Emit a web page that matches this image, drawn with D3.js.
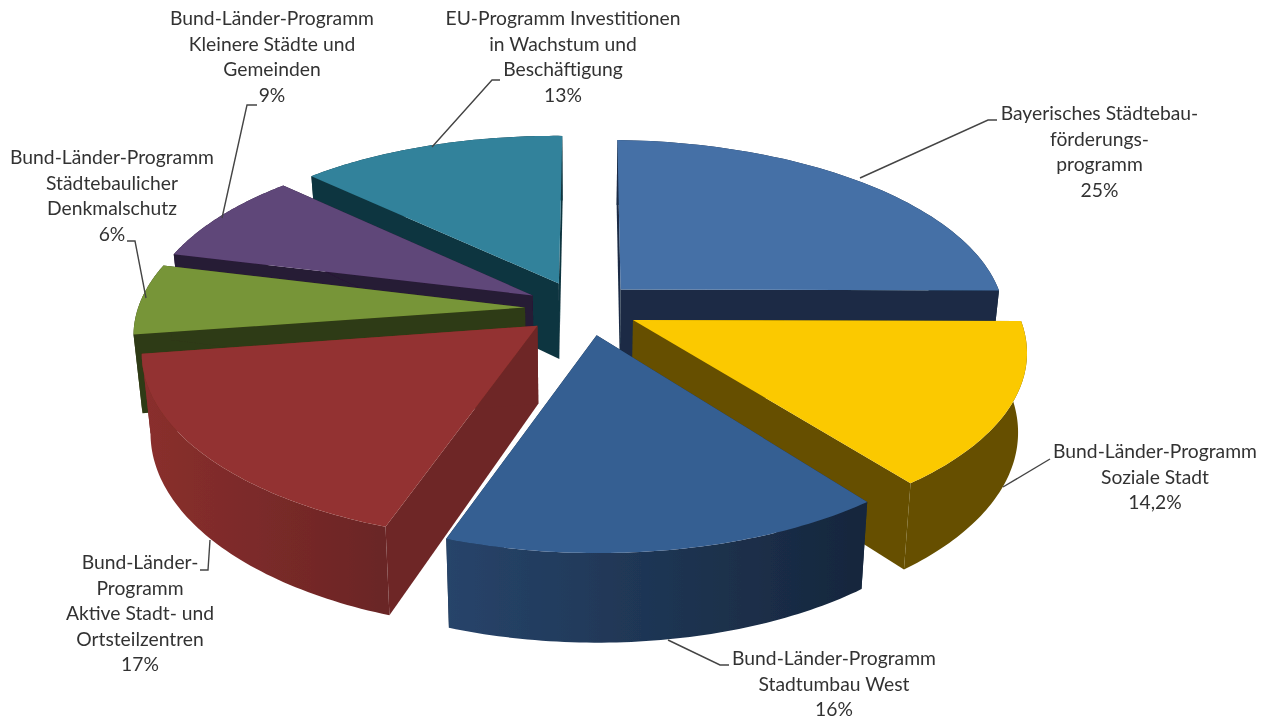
<!DOCTYPE html>
<html>
<head>
<meta charset="utf-8">
<script src="https://cdnjs.cloudflare.com/ajax/libs/d3/7.8.5/d3.min.js"></script>
<style>
  html, body { margin: 0; padding: 0; background: #fff; }
  svg { display: block; }
  text { font-family: Lato, "Noto Sans", sans-serif; font-size: 19.3px; fill: #333; text-anchor: middle; }
</style>
</head>
<body>
<div id="chart"></div>
<script>
// values (they add up to 100.2 in the original too)
const categories = [
  "Bayerisches Städtebauförderungsprogramm",
  "Bund-Länder-Programm Soziale Stadt",
  "Bund-Länder-Programm Stadtumbau West",
  "Bund-Länder-Programm Aktive Stadt- und Ortsteilzentren",
  "Bund-Länder-Programm Städtebaulicher Denkmalschutz",
  "Bund-Länder-Programm Kleinere Städte und Gemeinden",
  "EU-Programm Investitionen in Wachstum und Beschäftigung"
];
const values = [25, 14.2, 16, 17, 6, 9, 13];
const labelLines = [
  ["Bayerisches Städtebau-", "förderungs-", "programm", "25%"],
  ["Bund-Länder-Programm", "Soziale Stadt", "14,2%"],
  ["Bund-Länder-Programm", "Stadtumbau West", "16%"],
  ["Bund-Länder-", "Programm", "Aktive Stadt- und", "Ortsteilzentren", "17%"],
  ["Bund-Länder-Programm", "Städtebaulicher", "Denkmalschutz", "6%"],
  ["Bund-Länder-Programm", "Kleinere Städte und", "Gemeinden", "9%"],
  ["EU-Programm Investitionen", "in Wachstum und", "Beschäftigung", "13%"]
];
const topColors = ["#4570a6", "#fbc900", "#365f92", "#933330", "#779537", "#5f4679", "#30829b"];
const wallLeft = ["#1a2c44", "#665000", "#27446a", "#8a2f2d", "#2f3a14", "#281a36", "#10353f"];
const wallRight = ["#1a2c44", "#665000", "#16263c", "#6a2525", "#2f3a14", "#281a36", "#10353f"];
const cutColors = ["#1a2c44", "#665000", "#1a2c44", "#6e2626", "#2f3a14", "#281a36", "#10353f"];

// layout
const width = 1265, height = 719;
const explode = 0.148;
const tilt = 0.15;   // perspective, front is bigger than back
const shear = 2.5;   // the left side sits a bit higher than the right
const bottomShrink = 0.98;
const drawOrder = [6, 5, 4, 0, 3, 1, 2]; // back to front
const boundaryNudge = [0.5, -0.3, 0.4, 0.8, 1.5, 2, -0.9, 0]; // degrees, perspective skews the slice edges
const tipShift = [0, 0, 5, 0, 1, 2, 0];
const labelCenter = [1099.5, 1155, 834, 140, 112, 272, 563];
const labelTop = [120, 458, 665, 569, 164, 25, 25];
const lineStep = 25.5;
const leaders = [
  [[860, 178], [988, 120], [997, 120]],
  [[1003, 487], [1050, 459]],
  [[668, 640], [720, 665], [729, 665]],
  [[210, 540], [208, 570], [200, 570]],
  [[146, 298], [135, 241], [127, 241]],
  [[222, 218], [247, 105], [257, 105]],
  [[432, 147], [492, 80], [500, 80]]
];

const svg = d3.select("#chart").append("svg")
  .attr("width", width).attr("height", height);

const defs = svg.append("defs");
defs.append("filter").attr("id", "soft")
  .append("feGaussianBlur").attr("stdDeviation", 0.45);

const x = d3.scaleLinear().domain([-1, 1]).range([581 - 385, 581 + 385]);
const y = d3.scaleLinear().domain([-1, 1]).range([308 - 182.5, 308 + 182.5]);
const depth = d3.scaleLinear().domain([-1, 1]).range([66, 88]);

// u,v on the unit disc, v towards the viewer
function project(u, v, bottom) {
  const w = 1 + tilt * v;
  const px = x(u * w), py = y(v * w) + shear * u;
  return bottom ? [x(0) + (px - x(0)) * bottomShrink, py + depth(v)] : [px, py];
}

const arcs = d3.pie().sort(null).startAngle(0).endAngle(2 * Math.PI)(values);
const line = d3.line();
const rad = Math.PI / 180;

const g = svg.append("g").attr("filter", "url(#soft)");

drawOrder.forEach(function (i) {
  const a = arcs[i];
  const mid = (a.startAngle + a.endAngle) / 2;
  const ox = explode * Math.sin(mid), oy = -explode * Math.cos(mid);
  const a0 = a.startAngle + boundaryNudge[i] * rad, a1 = a.endAngle + boundaryNudge[i + 1] * rad;
  const angles = d3.range(0, 61).map(d => a0 + (a1 - a0) * d / 60);
  const rim = angles.map(t => [ox + Math.sin(t), oy - Math.cos(t)]);

  const topArc = rim.map(p => project(p[0], p[1], false));
  const botArc = rim.map(p => project(p[0], p[1], true));
  const tipX = ox + tipShift[i] / 385;
  const tip = project(tipX, oy, false), tipB = project(tipX, oy, true);

  // cut faces
  [0, rim.length - 1].forEach(function (k) {
    g.append("path")
      .attr("d", line([tip, topArc[k], botArc[k], tipB]) + "Z")
      .attr("fill", cutColors[i]);
  });

  // outer wall, shaded left to right
  const grad = defs.append("linearGradient")
    .attr("id", "wall" + i)
    .attr("gradientUnits", "userSpaceOnUse")
    .attr("x1", d3.min(topArc, d => d[0])).attr("x2", d3.max(topArc, d => d[0]))
    .attr("y1", 0).attr("y2", 0);
  grad.append("stop").attr("offset", "0%").attr("stop-color", wallLeft[i]);
  grad.append("stop").attr("offset", "100%").attr("stop-color", wallRight[i]);
  g.append("path")
    .attr("d", line(topArc.concat(botArc.slice().reverse())) + "Z")
    .attr("fill", "url(#wall" + i + ")");

  // top
  g.append("path")
    .attr("d", line([tip].concat(topArc)) + "Z")
    .attr("fill", topColors[i])
    .append("title").text(categories[i]);
});

// leader lines
svg.append("g").attr("filter", "url(#soft)").selectAll("path").data(leaders).join("path")
  .attr("d", d => line(d))
  .attr("fill", "none")
  .attr("stroke", "#444")
  .attr("stroke-width", 1.4);

// labels
svg.append("g").attr("filter", "url(#soft)").selectAll("text").data(labelLines).join("text")
  .attr("x", (d, i) => labelCenter[i])
  .attr("y", (d, i) => labelTop[i])
  .selectAll("tspan").data((d, i) => d.map(s => ({ s: s, i: i }))).join("tspan")
  .attr("x", d => labelCenter[d.i])
  .attr("dy", (d, k) => k ? lineStep : 0)
  .text(d => d.s);
</script>
</body>
</html>
